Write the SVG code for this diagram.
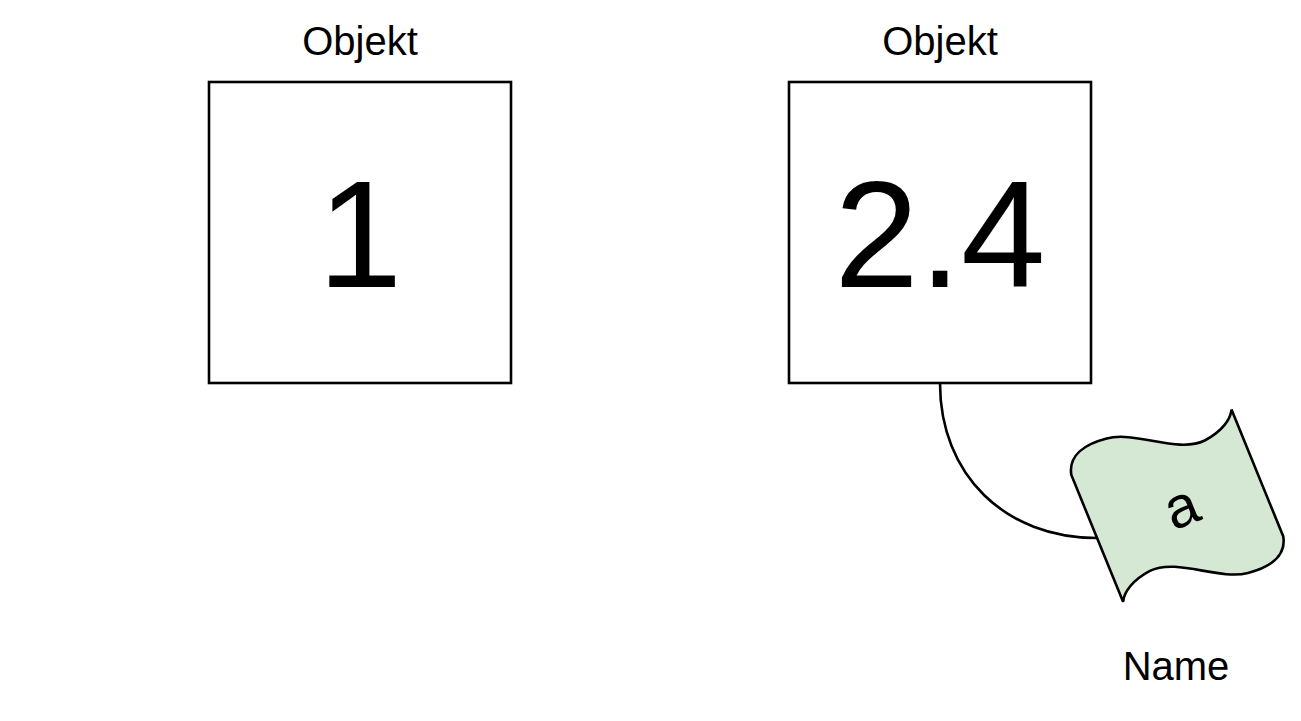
<svg xmlns="http://www.w3.org/2000/svg" width="1301" height="721" viewBox="0 0 1301 721">
<style>
.box{fill:#ffffff;stroke:#000000;stroke-width:2.6}
.lbl{font-family:"Liberation Sans",Arial,sans-serif;fill:#000000;text-anchor:middle}
.conn{fill:none;stroke:#000000;stroke-width:2.6}
.flag{fill:#d5e8d4;stroke:#000000;stroke-width:2.6;stroke-linejoin:miter}
</style>
<rect width="1301" height="721" fill="#ffffff"/>
<g id="obj1">
<rect class="box" x="209" y="82" width="302" height="301"/>
<text class="lbl" x="360" y="55" font-size="40">Objekt</text>
<text class="lbl" x="360" y="287" font-size="152">1</text>
</g>
<g id="obj2">
<rect class="box" x="789" y="82" width="302" height="301"/>
<text class="lbl" x="940" y="55" font-size="40">Objekt</text>
<text class="lbl" x="940" y="287" font-size="152">2.4</text>
</g>
<g id="connectors">
<path class="conn" d="M940,383 C940,475 1005,538 1097,538"/>
</g>
<g id="name-a">
<g transform="translate(1177.3,505.7) rotate(-22.2)">
<path class="flag" d="M-86.5,-68.5 C-82,-88 -62,-92 -40,-89 C-10,-85 20,-48 50,-50 C70,-52 82,-60 86.5,-68.5 L86.5,68.5 C82,88 62,92 40,89 C10,85 -20,48 -50,50 C-70,52 -82,60 -86.5,68.5 Z"/>
<text class="lbl" x="3" y="22" font-size="58">a</text>
</g>
<text class="lbl" x="1176" y="680" font-size="40">Name</text>
</g>
</svg>
